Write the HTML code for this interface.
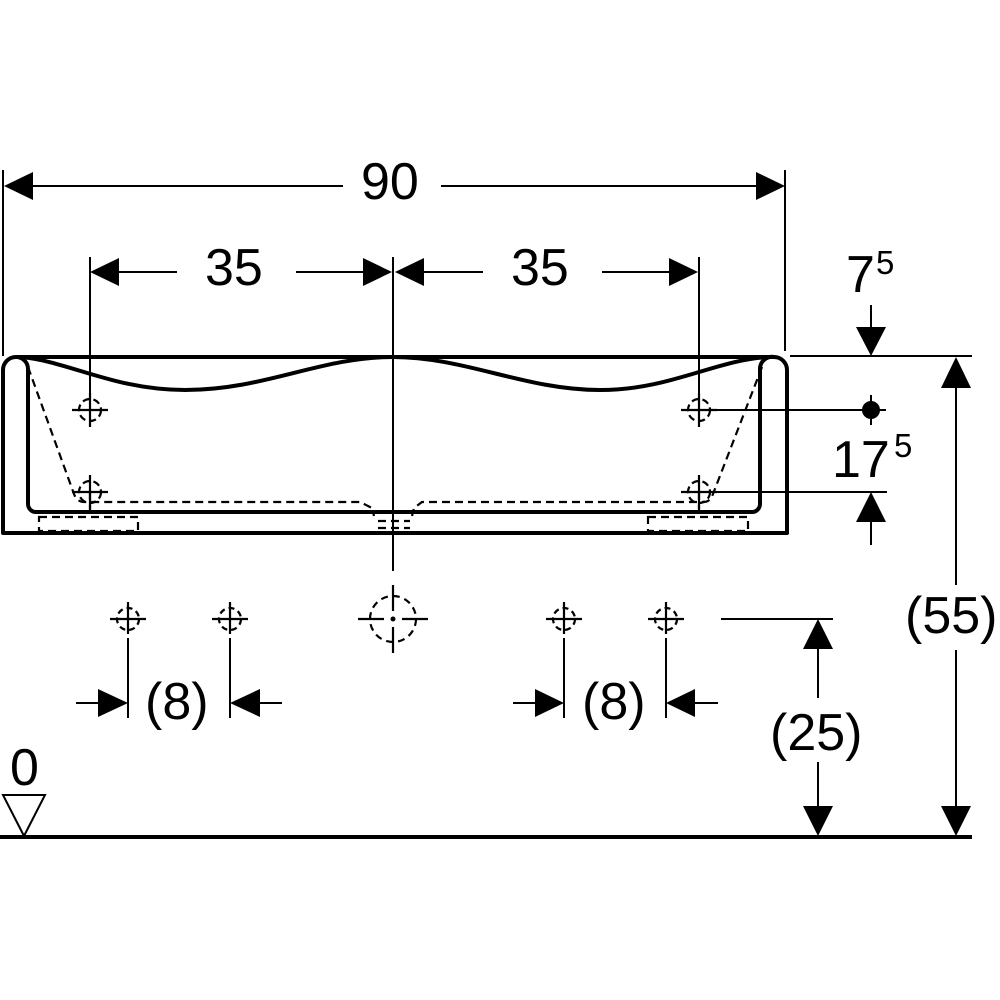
<!DOCTYPE html>
<html>
<head>
<meta charset="utf-8">
<style>
html,body{margin:0;padding:0;background:#fff;}
svg{display:block;}
text{font-family:"Liberation Sans",Arial,sans-serif;fill:#000;}
</style>
</head>
<body>
<svg width="1000" height="1000" viewBox="0 0 1000 1000" xmlns="http://www.w3.org/2000/svg">
<rect width="1000" height="1000" fill="#fff"/>

<!-- ===== 90 dimension ===== -->
<g stroke="#000" stroke-width="2" fill="none">
  <line x1="3" y1="170" x2="3" y2="356"/>
  <line x1="785" y1="170" x2="785" y2="351"/>
  <line x1="30" y1="186" x2="343" y2="186"/>
  <line x1="441" y1="186" x2="758" y2="186"/>
</g>
<polygon points="4,186 33,172 33,200" fill="#000"/>
<polygon points="785,186 756,172 756,200" fill="#000"/>
<text x="361" y="199" font-size="52">90</text>

<!-- ===== 35 / 35 dimension ===== -->
<g stroke="#000" stroke-width="2" fill="none">
  <line x1="90" y1="257" x2="90" y2="427"/>
  <line x1="393" y1="257" x2="393" y2="571"/>
  <line x1="699" y1="257" x2="699" y2="427"/>
  <line x1="118" y1="272" x2="177" y2="272"/>
  <line x1="296" y1="272" x2="363" y2="272"/>
  <line x1="424" y1="272" x2="483" y2="272"/>
  <line x1="602" y1="272" x2="670" y2="272"/>
</g>
<polygon points="90,272 119,258 119,286" fill="#000"/>
<polygon points="392,272 363,258 363,286" fill="#000"/>
<polygon points="395,272 424,258 424,286" fill="#000"/>
<polygon points="698,272 669,258 669,286" fill="#000"/>
<text x="205" y="285" font-size="52">35</text>
<text x="511" y="285" font-size="52">35</text>

<!-- ===== 7^5 ===== -->
<text x="846" y="292" font-size="52">7</text>
<text x="876" y="274" font-size="33">5</text>
<g stroke="#000" stroke-width="2" fill="none">
  <line x1="871" y1="305" x2="871" y2="328"/>
  <line x1="790" y1="356" x2="972" y2="356"/>
</g>
<polygon points="871,356 856,327 886,327" fill="#000"/>

<!-- ===== 17^5 ===== -->
<g stroke="#000" stroke-width="2" fill="none">
  <line x1="713" y1="410" x2="886" y2="410"/>
  <line x1="871" y1="395" x2="871" y2="425"/>
  <line x1="713" y1="492" x2="887" y2="492"/>
  <line x1="871" y1="521" x2="871" y2="545"/>
</g>
<circle cx="871" cy="410" r="9" fill="#000"/>
<polygon points="871,492 856,522 886,522" fill="#000"/>
<text x="832" y="477" font-size="52">17</text>
<text x="894" y="457" font-size="33">5</text>

<!-- ===== (55) ===== -->
<g stroke="#000" stroke-width="2" fill="none">
  <line x1="956" y1="386" x2="956" y2="585"/>
  <line x1="956" y1="650" x2="956" y2="808"/>
</g>
<polygon points="956,357 941,388 971,388" fill="#000"/>
<polygon points="956,836 941,806 971,806" fill="#000"/>
<text x="905" y="633" font-size="52">(55)</text>

<!-- ===== (25) ===== -->
<g stroke="#000" stroke-width="2" fill="none">
  <line x1="721" y1="619" x2="833" y2="619"/>
  <line x1="818" y1="646" x2="818" y2="698"/>
  <line x1="818" y1="762" x2="818" y2="808"/>
</g>
<polygon points="818,619 803,649 833,649" fill="#000"/>
<polygon points="818,836 803,806 833,806" fill="#000"/>
<text x="770" y="750" font-size="52">(25)</text>

<!-- ===== Basin ===== -->
<g stroke="#000" stroke-width="4" fill="none" stroke-linejoin="round">
  <path d="M3 533 L3 370 A13 13 0 0 1 16 357 L774 357 A13 13 0 0 1 787 370 L787 533 Z"/>
  <path d="M16 357 A12 12 0 0 1 28 369 L28 504 A8 8 0 0 0 36 512 L752 512 A8 8 0 0 0 760 504 L760 369 A12 12 0 0 1 774 357"/>
  <path d="M22 357 C70 362, 115 390, 185 390 C265 390, 320 357, 393 357 C465 357, 525 390, 600 390 C670 390, 715 360, 768 357"/>
</g>
<line x1="393" y1="505" x2="393" y2="571" stroke="#000" stroke-width="2"/>

<!-- hidden (dashed) lines -->
<g stroke="#000" stroke-width="2.2" fill="none" stroke-dasharray="8 5">
  <path d="M28 367 L74 494 Q77 502 84 502 L360 502 L372 508 L374 516"/>
  <path d="M762 367 L713 494 Q710 502 704 502 L422 502 L414 508 L412 516"/>
  <line x1="378" y1="521" x2="410" y2="521"/>
  <line x1="378" y1="528" x2="410" y2="528"/>
  <rect x="39" y="517" width="99" height="14"/>
  <rect x="648" y="517" width="100" height="14"/>
  <line x1="90" y1="492" x2="90" y2="510"/>
  <line x1="699" y1="492" x2="699" y2="510"/>
</g>

<!-- basin crosshairs -->
<g stroke="#000" stroke-width="2.2" fill="none">
  <line x1="72" y1="410" x2="108" y2="410"/><line x1="90" y1="393" x2="90" y2="427"/>
  <circle cx="90" cy="410" r="11" stroke-dasharray="7 4"/>
  <line x1="72" y1="492" x2="108" y2="492"/><line x1="90" y1="475" x2="90" y2="509"/>
  <circle cx="90" cy="492" r="11" stroke-dasharray="7 4"/>
  <line x1="681" y1="410" x2="717" y2="410"/><line x1="699" y1="393" x2="699" y2="427"/>
  <circle cx="699" cy="410" r="11" stroke-dasharray="7 4"/>
  <line x1="681" y1="492" x2="717" y2="492"/><line x1="699" y1="475" x2="699" y2="509"/>
  <circle cx="699" cy="492" r="11" stroke-dasharray="7 4"/>
</g>

<!-- ===== Bottom crosshairs ===== -->
<g stroke="#000" stroke-width="2.2" fill="none">
  <line x1="110" y1="619" x2="146" y2="619"/><line x1="128" y1="602" x2="128" y2="634"/>
  <circle cx="128" cy="619" r="11" stroke-dasharray="6 4"/>
  <line x1="212" y1="619" x2="248" y2="619"/><line x1="230" y1="602" x2="230" y2="634"/>
  <circle cx="230" cy="619" r="11" stroke-dasharray="6 4"/>
  <line x1="546" y1="619" x2="582" y2="619"/><line x1="564" y1="602" x2="564" y2="634"/>
  <circle cx="564" cy="619" r="11" stroke-dasharray="6 4"/>
  <line x1="648" y1="619" x2="684" y2="619"/><line x1="666" y1="602" x2="666" y2="634"/>
  <circle cx="666" cy="619" r="11" stroke-dasharray="6 4"/>
  <line x1="358" y1="619" x2="384" y2="619"/><line x1="402" y1="619" x2="428" y2="619"/>
  <line x1="393" y1="585" x2="393" y2="611"/><line x1="393" y1="627" x2="393" y2="653"/>
  <circle cx="393" cy="619" r="23" stroke-dasharray="7 5"/>
</g>
<circle cx="393" cy="619" r="2.5" fill="#000"/>

<!-- ===== (8) dims ===== -->
<g stroke="#000" stroke-width="2" fill="none">
  <line x1="128" y1="638" x2="128" y2="718"/>
  <line x1="230" y1="638" x2="230" y2="718"/>
  <line x1="76" y1="703" x2="100" y2="703"/>
  <line x1="258" y1="703" x2="282" y2="703"/>
  <line x1="564" y1="638" x2="564" y2="718"/>
  <line x1="666" y1="638" x2="666" y2="718"/>
  <line x1="513" y1="703" x2="537" y2="703"/>
  <line x1="693" y1="703" x2="718" y2="703"/>
</g>
<polygon points="128,703 98,689 98,717" fill="#000"/>
<polygon points="230,703 260,689 260,717" fill="#000"/>
<polygon points="564,703 535,689 535,717" fill="#000"/>
<polygon points="666,703 695,689 695,717" fill="#000"/>
<text x="145" y="719" font-size="52">(8)</text>
<text x="582" y="719" font-size="52">(8)</text>

<!-- ===== Ground / zero ===== -->
<line x1="0" y1="837" x2="972" y2="837" stroke="#000" stroke-width="4"/>
<polygon points="3,795 45,795 24,836" fill="none" stroke="#000" stroke-width="2"/>
<text x="10" y="785" font-size="52">0</text>
</svg>
</body>
</html>
